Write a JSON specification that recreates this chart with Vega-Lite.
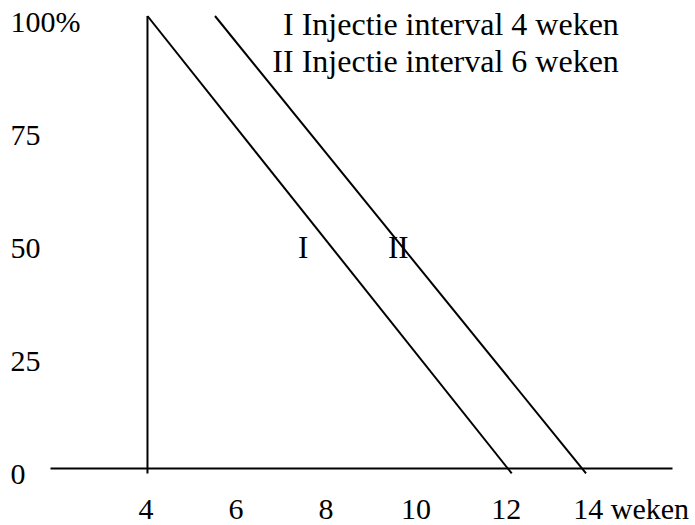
{
  "$schema": "https://vega.github.io/schema/vega-lite/v6.json",
  "autosize": "none",
  "width": 622,
  "height": 452,
  "padding": {"left": 50, "top": 16, "right": 23, "bottom": 57},
  "background": "white",
  "config": {"view": {"stroke": null}, "font": "Liberation Serif"},
  "datasets": {
    "lines": [
      {"series": "V", "week": 4, "pct": 100},
      {"series": "V", "week": 4, "pct": -1.2},
      {"series": "I", "week": 4, "pct": 100},
      {"series": "I", "week": 12.09, "pct": -1.2},
      {"series": "II", "week": 5.5, "pct": 100},
      {"series": "II", "week": 13.74, "pct": -1.2}
    ],
    "marks": [
      {"week": 7.46, "pct": 48.5, "label": "I"},
      {"week": 9.57, "pct": 48.5, "label": "II"}
    ],
    "legend": [
      {"week": 14.47, "pct": 98.0, "label": "I Injectie interval 4 weken"},
      {"week": 14.47, "pct": 89.8, "label": "II Injectie interval 6 weken"}
    ]
  },
  "layer": [
    {
      "data": {"name": "lines"},
      "mark": {"type": "line", "color": "black", "strokeWidth": 2},
      "encoding": {
        "x": {
          "field": "week", "type": "quantitative",
          "scale": {"domain": [1.835, 15.65], "nice": false, "zero": false},
          "axis": {
            "values": [4, 6, 8, 10, 12, 14],
            "title": null,
            "grid": false,
            "ticks": false,
            "tickSize": 0,
            "domain": true,
            "domainColor": "black",
            "domainWidth": 2,
            "labelExpr": "datum.value == 14 ? '14 weken' : datum.label",
            "labelFont": "Liberation Serif",
            "labelFontSize": 30,
            "labelColor": "black",
            "labelBaseline": "alphabetic",
            "labelPadding": 50,
            "labelFlush": false,
            "labelOverlap": false,
            "labelAlign": {"condition": {"test": "datum.value == 14", "value": "left"}, "value": "center"},
            "labelOffset": {"condition": {"test": "datum.value == 14", "value": -25}, "value": -2}
          }
        },
        "y": {
          "field": "pct", "type": "quantitative",
          "scale": {"domain": [0, 100], "nice": false, "zero": false},
          "axis": {
            "values": [0, 25, 50, 75, 100],
            "title": null,
            "grid": false,
            "ticks": false,
            "tickSize": 0,
            "domain": false,
            "labelExpr": "datum.value == 100 ? '100%' : datum.label",
            "labelFont": "Liberation Serif",
            "labelFontSize": 30,
            "labelColor": "black",
            "labelAlign": "left",
            "labelBaseline": "middle",
            "labelPadding": 40,
            "labelOffset": 6,
            "labelFlush": false,
            "labelOverlap": false
          }
        },
        "detail": {"field": "series", "type": "nominal"}
      }
    },
    {
      "data": {"name": "marks"},
      "mark": {"type": "text", "font": "Liberation Serif", "fontSize": 31, "color": "black", "align": "center", "baseline": "middle"},
      "encoding": {
        "x": {"field": "week", "type": "quantitative"},
        "y": {"field": "pct", "type": "quantitative"},
        "text": {"field": "label"}
      }
    },
    {
      "data": {"name": "legend"},
      "mark": {"type": "text", "font": "Liberation Serif", "fontSize": 32, "color": "black", "align": "right", "baseline": "middle"},
      "encoding": {
        "x": {"field": "week", "type": "quantitative"},
        "y": {"field": "pct", "type": "quantitative"},
        "text": {"field": "label"}
      }
    }
  ]
}
